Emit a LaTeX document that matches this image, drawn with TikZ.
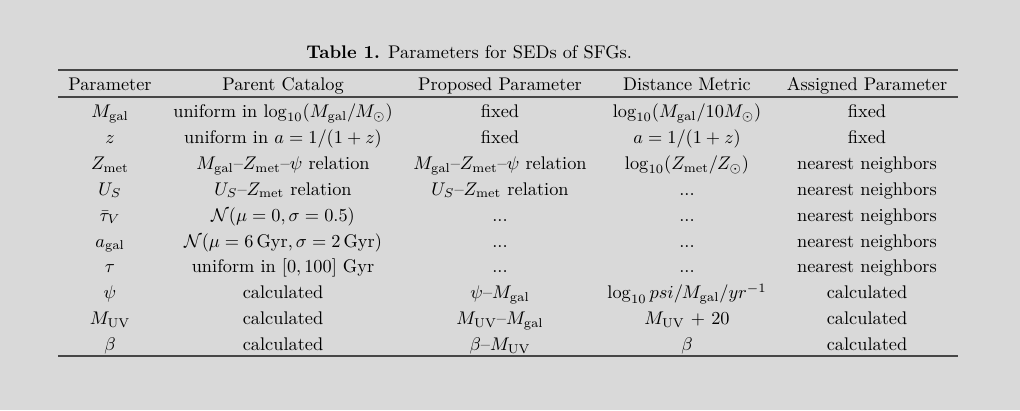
\documentclass[tikz,border=0pt]{standalone}
\usepackage{amsmath}
\usepackage{amsfonts}
\usepackage{tikz}
\definecolor{bg}{RGB}{217,217,217}
\definecolor{rulegrey}{RGB}{70,70,70}

\begin{document}
\begin{tikzpicture}[x=0.546pt, y=-0.546pt, cell/.style={anchor=base, inner sep=0pt}, hrule/.style={draw=rulegrey, line width=0.7pt}]
                % background
                \useasboundingbox[fill=bg] (0,0) rectangle (1020,410);
                % nodes
                \node[cell, anchor=base west] (title) at (306,58.5) {\textbf{Table 1.} Parameters for SEDs of SFGs.};
                \node[cell] (hpar) at (110,90.3) {Parameter};
                \node[cell] (hcat) at (283,90.3) {Parent Catalog};
                \node[cell] (hpro) at (500,90.3) {Proposed Parameter};
                \node[cell] (hdis) at (687,90.3) {Distance Metric};
                \node[cell] (hasg) at (867,90.3) {Assigned Parameter};
                \foreach \p/\c/\q/\d/\a [count=\i] in {
                    {$M_{\mathrm{gal}}$}/{uniform in $\log_{10}(M_{\mathrm{gal}}/M_\odot)$}/{fixed}/{$\log_{10}(M_{\mathrm{gal}}/10M_\odot)$}/{fixed},
                    {$z$}/{uniform in $a=1/(1+z)$}/{fixed}/{$a=1/(1+z)$}/{fixed},
                    {$Z_{\mathrm{met}}$}/{$M_{\mathrm{gal}}$--$Z_{\mathrm{met}}$--$\psi$ relation}/{$M_{\mathrm{gal}}$--$Z_{\mathrm{met}}$--$\psi$ relation}/{$\log_{10}(Z_{\mathrm{met}}/Z_\odot)$}/{nearest neighbors},
                    {$U_S$}/{$U_S$--$Z_{\mathrm{met}}$ relation}/{$U_S$--$Z_{\mathrm{met}}$ relation}/{...}/{nearest neighbors},
                    {$\bar{\tau}_V$}/{$\mathcal{N}(\mu=0,\sigma=0.5)$}/{...}/{...}/{nearest neighbors},
                    {$a_{\mathrm{gal}}$}/{$\mathcal{N}(\mu=6\,\mathrm{Gyr},\sigma=2\,\mathrm{Gyr})$}/{...}/{...}/{nearest neighbors},
                    {$\tau$}/{uniform in $[0,100]$ Gyr}/{...}/{...}/{nearest neighbors},
                    {$\psi$}/{calculated}/{$\psi$--$M_{\mathrm{gal}}$}/{$\log_{10}psi/M_{\mathrm{gal}}/yr^{-1}$}/{calculated},
                    {$M_{\mathrm{UV}}$}/{calculated}/{$M_{\mathrm{UV}}$--$M_{\mathrm{gal}}$}/{$M_{\mathrm{UV}}$ + 20}/{calculated},
                    {$\beta$}/{calculated}/{$\beta$--$M_{\mathrm{UV}}$}/{$\beta$}/{calculated}} {
                    \node[cell] (par\i) at (110,{117.5+25.9*(\i-1)}) {\p};
                    \node[cell] (cat\i) at (283,{117.5+25.9*(\i-1)}) {\c};
                    \node[cell] (pro\i) at (500,{117.5+25.9*(\i-1)}) {\q};
                    \node[cell] (dis\i) at (687,{117.5+25.9*(\i-1)}) {\d};
                    \node[cell] (asg\i) at (867,{117.5+25.9*(\i-1)}) {\a};
                }
                % rules
                \draw[hrule] (58,70) -- (958,70);
                \draw[hrule] (58,97) -- (958,97);
                \draw[hrule] (58,356) -- (958,356);
            \end{tikzpicture}
\end{document}
